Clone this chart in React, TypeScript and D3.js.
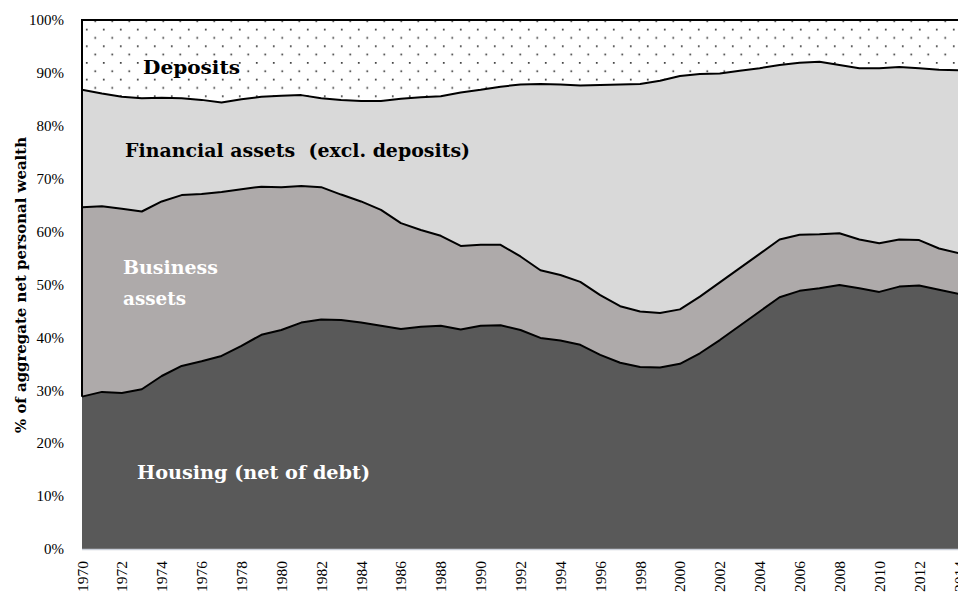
import React from "react";
import * as d3 from "d3";

const years = d3.range(1970, 2015);
const housing = [28.8, 29.7, 29.5, 30.2, 32.7, 34.6, 35.5, 36.5, 38.4, 40.5, 41.4, 42.8, 43.4, 43.3, 42.8, 42.2, 41.6, 42.0, 42.2, 41.5, 42.2, 42.3, 41.4, 39.9, 39.4, 38.6, 36.7, 35.2, 34.4, 34.3, 35.0, 37.0, 39.5, 42.2, 44.9, 47.6, 48.8, 49.3, 49.9, 49.3, 48.6, 49.6, 49.8, 49.0, 48.2];
const business = [35.8, 35.1, 34.8, 33.6, 33.0, 32.3, 31.6, 31.0, 29.6, 28.0, 27.0, 25.8, 25.0, 23.7, 22.9, 21.9, 20.0, 18.3, 17.0, 15.8, 15.3, 15.2, 13.9, 12.8, 12.4, 11.9, 11.3, 10.7, 10.5, 10.3, 10.3, 10.7, 10.9, 10.9, 10.9, 10.9, 10.6, 10.2, 9.8, 9.2, 9.2, 8.9, 8.6, 7.8, 7.7];
const financial = [22.2, 21.3, 21.2, 21.4, 19.6, 18.3, 17.8, 16.9, 17.0, 17.0, 17.3, 17.2, 16.8, 17.9, 19.0, 20.6, 23.5, 25.1, 26.4, 29.0, 29.3, 29.9, 32.5, 35.2, 36.0, 37.1, 39.7, 41.9, 43.0, 43.9, 44.1, 42.1, 39.5, 37.3, 35.1, 33.0, 32.5, 32.6, 31.8, 32.4, 33.1, 32.6, 32.5, 33.8, 34.6];
const deposits = [13.2, 13.9, 14.5, 14.8, 14.7, 14.8, 15.1, 15.6, 15.0, 14.5, 14.3, 14.2, 14.8, 15.1, 15.3, 15.3, 14.9, 14.6, 14.4, 13.7, 13.2, 12.6, 12.2, 12.1, 12.2, 12.4, 12.3, 12.2, 12.1, 11.5, 10.6, 10.2, 10.1, 9.6, 9.1, 8.5, 8.1, 7.9, 8.5, 9.1, 9.1, 8.9, 9.1, 9.4, 9.5];
const seriesKeys = ["housing", "business", "financial", "deposits"];
const yTicks = [0, 10, 20, 30, 40, 50, 60, 70, 80, 90, 100];
const xTickYears = d3.range(1970, 2015, 2);
const yTitle = "% of aggregate net personal wealth";

const W = 958, H = 592;
const left = 82, right = 959, top = 20, bottom = 549;

export default function App() {
  const table = years.map((y, i) => ({
    year: y,
    housing: housing[i],
    business: business[i],
    financial: financial[i],
    deposits: deposits[i],
  }));
  const stacked = d3.stack<any>().keys(seriesKeys)(table);
  const x = d3.scaleLinear().domain([1970, 2014]).range([left, right]);
  const y = d3.scaleLinear().domain([0, 100]).range([bottom, top]);
  const area = d3.area<any>().x((d) => x(d.data.year)).y0((d) => y(d[0])).y1((d) => y(Math.min(100, d[1])));
  const topLine = d3.line<any>().x((d) => x(d.data.year)).y((d) => y(d[1]));
  const fills = ["#595959", "#AEAAAA", "#D9D9D9", "url(#dots)"];
  const serif = "'Liberation Serif', 'Times New Roman', serif";
  const bold = "'DejaVu Serif', serif";

  return (
    <svg width={W} height={H} style={{ position: "absolute", left: 0, top: 0, display: "block" }}>
      <defs>
        <pattern id="dots" patternUnits="userSpaceOnUse" x={85.9} y={28.7} width={17} height={16.67}>
          <rect width={17} height={16.67} fill="#ffffff" />
          <rect x={0} y={0} width={1.7} height={1.7} fill="#3a3a3a" />
          <rect x={8.5} y={8.33} width={1.7} height={1.7} fill="#3a3a3a" />
        </pattern>
      </defs>
      {stacked.map((s, i) => (
        <path key={s.key} d={area(s as any) || ""} fill={fills[i]} stroke="none" />
      ))}
      {stacked.slice(0, 3).map((s) => (
        <path key={"l" + s.key} d={topLine(s as any) || ""} fill="none" stroke="#000" strokeWidth={2} strokeLinejoin="round" />
      ))}
      <line x1={left} x2={right} y1={top} y2={top} stroke="#000" strokeWidth={2} />
      <line x1={left} x2={left} y1={top - 1} y2={y(housing[0])} stroke="#000" strokeWidth={2} />
      <line x1={left} x2={right} y1={bottom + 0.5} y2={bottom + 0.5} stroke="#c9ced8" strokeWidth={1.5} />

      {yTicks.map((t) => (
        <text key={t} x={64} y={y(t)} dy="0.35em" textAnchor="end" fontFamily={serif} fontSize={15} fill="#000">
          {t + "%"}
        </text>
      ))}
      {xTickYears.map((yr) => (
        <text key={yr} transform={`translate(${x(yr) + 5.5},561) rotate(-90)`} textAnchor="end" fontFamily={serif} fontSize={15.5} fill="#000">
          {String(yr)}
        </text>
      ))}
      <text transform={`translate(26,285) rotate(-90)`} textAnchor="middle" fontFamily={bold} fontWeight="bold" fontSize={14} textLength={296} lengthAdjust="spacingAndGlyphs" fill="#000">
        {yTitle}
      </text>

      <text x={143} y={74} fontFamily={bold} fontWeight="bold" fontSize={19} textLength={97} lengthAdjust="spacingAndGlyphs" fill="#000">Deposits</text>
      <text x={125} y={157} fontFamily={bold} fontWeight="bold" fontSize={19} textLength={345} lengthAdjust="spacingAndGlyphs" fill="#000" style={{ whiteSpace: "pre" }}>{"Financial assets  (excl. deposits)"}</text>
      <text x={123} y={274} fontFamily={bold} fontWeight="bold" fontSize={19} textLength={95} lengthAdjust="spacingAndGlyphs" fill="#ffffff">Business</text>
      <text x={123} y={305} fontFamily={bold} fontWeight="bold" fontSize={19} textLength={63} lengthAdjust="spacingAndGlyphs" fill="#ffffff">assets</text>
      <text x={137} y={479} fontFamily={bold} fontWeight="bold" fontSize={19} textLength={233} lengthAdjust="spacingAndGlyphs" fill="#ffffff">Housing (net of debt)</text>
    </svg>
  );
}
